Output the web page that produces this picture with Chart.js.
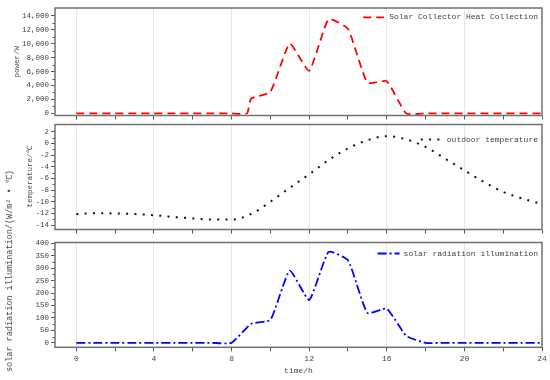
<!DOCTYPE html>
<html>
<head>
<meta charset="utf-8">
<script src="https://cdn.jsdelivr.net/npm/chart.js@4.4.1/dist/chart.umd.min.js"></script>
<style>
  html, body { margin: 0; padding: 0; background: #fff; }
  #wrap { position: relative; width: 550px; height: 380px; background: #fff; overflow: hidden; }
  canvas { position: absolute; left: 0; }
  #t3 {
    position: absolute; left: 8.5px; top: 271px;
    transform: translate(-50%, -50%) rotate(-90deg);
    white-space: nowrap; font-family: 'Liberation Mono', monospace; font-size: 8.5px; color: #444;
  }
</style>
</head>
<body>
<div id="wrap">
  <canvas id="c1" width="550" height="122" style="top:0px"></canvas>
  <canvas id="c2" width="550" height="118" style="top:118px"></canvas>
  <canvas id="c3" width="550" height="144" style="top:236px"></canvas>
  <div id="t3">solar radiation illumination/(W/m² • ℃)</div>
</div>
<script>
// ---- data ----
const hours = [0,1,2,3,4,5,6,7,8,9,10,11,12,13,14,15,16,17,18,19,20,21,22,23,24];
const powerHours = [0,1,2,3,4,5,6,7,8,8.8,9,10,11,12,13,14,15,16,17,18,19,20,21,22,23,24];
const powerW = [0,0,0,0,0,0,0,0,0,0,2100,3100,10000,6100,13500,12100,4400,4600,0,0,0,0,0,0,0,0];
const temperatureC = [-12.1,-11.95,-12.0,-12.1,-12.3,-12.6,-12.85,-13.05,-13.05,-12.1,-10.0,-7.6,-5.3,-2.85,-0.85,0.55,1.25,0.7,-0.6,-2.6,-4.6,-6.6,-8.3,-9.45,-10.4];
const radiation = [0,0,0,0,0,0,0,0,0,76,92,290,172,365,332,120,137,28,0,0,0,0,0,0,0];

const xTicks = [0,2,4,6,8,10,12,14,16,18,20,22,24];
const powerTicks = [0,2000,4000,6000,8000,10000,12000,14000];
const tempTicks = [-14,-12,-10,-8,-6,-4,-2,0,2];
const radTicks = [0,50,100,150,200,250,300,350,400];

const powerLabel = 'Solar Collector Heat Collection';
const tempLabel = 'outdoor temperature';
const radLabel = 'solar radiation illumination';

// ---- helpers ----
Chart.defaults.font.family = "'Liberation Mono', monospace";
Chart.defaults.color = '#444';

const framePlugin = {
  id: 'frame',
  afterDraw(chart, args, opts) {
    const {ctx, chartArea: a} = chart;
    ctx.save();
    // minor y ticks
    const ys = chart.scales.y;
    ctx.strokeStyle = '#555';
    ctx.lineWidth = 1;
    (opts.minors || []).forEach(v => {
      const p = Math.round(ys.getPixelForValue(v)) + 0.5;
      ctx.beginPath(); ctx.moveTo(a.left - 2.5, p); ctx.lineTo(a.left, p); ctx.stroke();
    });
    ctx.strokeStyle = '#707070';
    ctx.lineWidth = 1.5;
    ctx.strokeRect(a.left, a.top, a.right - a.left, a.bottom - a.top);
    // legend inside chart area, top-right
    const ds = chart.data.datasets[0];
    ctx.font = "8px 'Liberation Mono', monospace";
    const tw = ctx.measureText(ds.label).width;
    const y = a.top + opts.legendY;
    const textX = a.right - 4 - tw;
    const x2 = textX - 4, x1 = x2 - 22;
    ctx.strokeStyle = ds.borderColor;
    ctx.lineWidth = ds.borderWidth;
    ctx.setLineDash(ds.borderDash || []);
    ctx.beginPath(); ctx.moveTo(x1, y); ctx.lineTo(x2, y); ctx.stroke();
    ctx.setLineDash([]);
    ctx.fillStyle = '#444';
    ctx.textBaseline = 'middle';
    ctx.textAlign = 'left';
    ctx.fillText(ds.label, textX, y);
    ctx.restore();
  }
};

function pairs(xs, ys) { return xs.map((x, i) => ({x: x, y: ys[i]})); }

function makeChart(id, o) {
  return new Chart(document.getElementById(id), {
    type: 'line',
    data: { datasets: [o.dataset] },
    plugins: [framePlugin],
    options: {
      responsive: false,
      animation: false,
      devicePixelRatio: 1,
      layout: { padding: { left: 0, right: 8, top: o.padTop, bottom: 0 } },
      plugins: {
        frame: { minors: o.minors, legendY: o.legendY },
        tooltip: { enabled: false },
        legend: { display: false }
      },
      scales: {
        x: {
          type: 'linear',
          min: -1.1,
          max: 24,
          afterBuildTicks: s => { s.ticks = xTicks.map(v => ({value: v})); },
          afterFit: s => { s.height = o.xHeight; },
          ticks: {
            display: o.showX,
            padding: 3,
            font: { size: 8 },
            color: '#444',
            maxRotation: 0,
            callback: v => (v % 4 === 0 ? String(v) : '')
          },
          grid: {
            drawTicks: true,
            tickLength: 4,
            tickColor: '#555',
            color: c => (c.tick && c.tick.value % 4 === 0 && c.tick.value < 24) ? '#e8e8e8' : 'rgba(0,0,0,0)'
          },
          border: { display: false },
          title: o.showX ? { display: true, text: 'time/h', font: { size: 8 }, color: '#444', padding: { top: 0, bottom: 4 } } : { display: false }
        },
        y: {
          min: o.ymin,
          max: o.ymax,
          afterBuildTicks: s => { s.ticks = o.yTicks.map(v => ({value: v})); },
          afterFit: s => { s.width = 55; },
          ticks: {
            padding: 2,
            font: { size: 7.5 },
            color: '#444',
            callback: v => o.fmt(v)
          },
          grid: { drawOnChartArea: false, tickLength: 4, tickColor: '#555' },
          border: { display: false },
          title: o.yTitle ? { display: true, text: o.yTitle, font: { size: 7.5 }, color: '#444', padding: { top: o.yTitlePad, bottom: 0 } } : { display: false }
        }
      }
    }
  });
}

makeChart('c1', {
  dataset: {
    label: powerLabel,
    data: pairs(powerHours, powerW),
    borderColor: '#ff0000', backgroundColor: '#ff0000',
    borderWidth: 1.8, borderDash: [8, 5], pointRadius: 0, tension: 0.15, fill: false
  },
  padTop: 8, xHeight: 5.5, showX: false, legendY: 9.3,
  ymin: -300, ymax: 15100, yTicks: powerTicks,
  minors: [1000,3000,5000,7000,9000,11000,13000],
  fmt: v => v.toLocaleString('en-US'),
  yTitle: 'power/W', yTitlePad: 12.5
});

makeChart('c2', {
  dataset: {
    label: tempLabel,
    data: pairs(hours, temperatureC),
    borderColor: '#111', backgroundColor: '#111',
    borderWidth: 2, borderDash: [2, 6.3], pointRadius: 0, cubicInterpolationMode: 'monotone', fill: false
  },
  padTop: 5.3, xHeight: 6, showX: false, legendY: 15,
  ymin: -14.75, ymax: 3.25, yTicks: tempTicks,
  minors: [-13,-11,-9,-7,-5,-3,-1,1],
  fmt: v => String(v),
  yTitle: 'temperature/℃', yTitlePad: 25.5
});

makeChart('c3', {
  dataset: {
    label: radLabel,
    data: pairs(hours, radiation),
    borderColor: '#0000ff', backgroundColor: '#0000ff',
    borderWidth: 1.8, borderDash: [9, 3, 2, 3], pointRadius: 0, tension: 0.15, fill: false
  },
  padTop: 4, xHeight: 32.7, showX: true, legendY: 11,
  ymin: -18, ymax: 403, yTicks: radTicks,
  minors: [25,75,125,175,225,275,325,375],
  fmt: v => String(v),
  yTitle: null, yTitlePad: 0
});
</script>
</body>
</html>
